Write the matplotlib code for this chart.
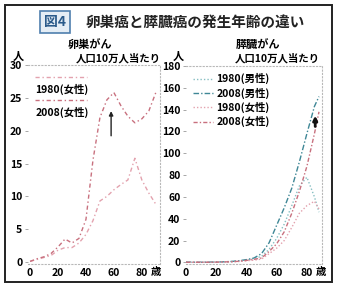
import matplotlib
matplotlib.use("Agg")
import matplotlib.pyplot as plt
from matplotlib.patches import Rectangle
from matplotlib.legend_handler import HandlerLine2D

plt.rcParams['font.family'] = ['Noto Sans CJK JP', 'DejaVu Sans']

# ---------------- data ----------------
ages = [0, 5, 10, 15, 20, 25, 30, 35, 40, 45, 50, 55, 60, 65, 70, 75, 80, 85, 90]
ovary_1980 = [0.1, 0.4, 0.7, 1.0, 1.8, 2.2, 2.2, 2.9, 4.2, 6.3, 9.3, 10.0, 11.0, 11.8, 12.5, 15.8, 12.5, 10.5, 8.8]
ovary_2008 = [0.1, 0.5, 0.8, 1.3, 2.3, 3.5, 2.9, 3.6, 6.5, 15.5, 22.0, 24.7, 25.8, 23.8, 22.2, 21.2, 21.8, 23.0, 25.8]

ages_p = [0, 5, 10, 15, 20, 25, 30, 35, 40, 45, 50, 55, 60, 65, 70, 75, 80, 85, 88]
panc_m_1980 = [0.2, 0.1, 0.1, 0.2, 0.3, 0.5, 0.8, 1.2, 2.0, 3.5, 5.5, 12.0, 22.0, 35.0, 52.0, 70.0, 78.0, 60.0, 46.0]
panc_m_2008 = [0.2, 0.1, 0.1, 0.2, 0.3, 0.5, 0.8, 1.5, 2.5, 4.0, 8.0, 18.0, 34.0, 50.0, 68.0, 92.0, 118.0, 143.0, 152.0]
panc_f_1980 = [0.1, 0.1, 0.1, 0.1, 0.2, 0.3, 0.5, 0.8, 1.5, 2.0, 3.0, 8.0, 13.0, 20.0, 32.0, 45.0, 52.0, 56.0, 49.0]
panc_f_2008 = [0.1, 0.1, 0.1, 0.1, 0.2, 0.4, 0.6, 1.0, 1.8, 2.8, 4.0, 10.0, 17.0, 28.0, 45.0, 65.0, 88.0, 118.0, 138.0]

left_yticks = [0, 5, 10, 15, 20, 25, 30]
right_yticks = [0, 20, 40, 60, 80, 100, 120, 140, 160, 180]
xticks = [0, 20, 40, 60, 80]

W, H = 338, 286
fig = plt.figure(figsize=(W / 100, H / 100), dpi=100)


def ax_rect(x0, x1, y_top, y_bot):
    return [x0 / W, 1 - y_bot / H, (x1 - x0) / W, (y_bot - y_top) / H]


axL = fig.add_axes(ax_rect(28, 160, 65, 264))
axR = fig.add_axes(ax_rect(186, 322, 66, 264))

pink_d = '#c8707e'
pink_l = '#e3a2ae'
teal_d = '#3f8796'
teal_l = '#86bfc2'


class HandlerAbove(HandlerLine2D):
    """Legend line drawn above its label."""
    def create_artists(self, legend, orig_handle, xdescent, ydescent,
                       width, height, fontsize, trans):
        arts = super().create_artists(legend, orig_handle, xdescent, ydescent,
                                      width, height, fontsize, trans)
        for a in arts:
            if hasattr(a, 'get_ydata'):
                a.set_ydata([v + height * 1.7 for v in a.get_ydata()])
        return arts


for ax in (axL, axR):
    ax.spines['left'].set_visible(False)
    for s in ('top', 'right', 'bottom'):
        ax.spines[s].set_linestyle((0, (1, 2)))
        ax.spines[s].set_color('#b8b8b8')
        ax.spines[s].set_linewidth(0.8)
    ax.tick_params(axis='both', length=2, width=0.6, color='#999999',
                   labelsize=7.5, pad=2)
    ax.tick_params(axis='x', length=0, pad=3)

# Left panel: ovarian cancer
l1, = axL.plot(ages, ovary_1980, color=pink_l, lw=1.0, ls=(0, (3, 2, 1, 2)), label='1980(女性)')
l2, = axL.plot(ages, ovary_2008, color=pink_d, lw=1.0, ls=(0, (3, 2, 1, 2)), label='2008(女性)')
axL.set_xlim(-1.5, 93)
axL.set_ylim(-0.3, 30)
axL.set_yticks(left_yticks)
axL.set_xticks(xticks)
for lab in axL.get_xticklabels() + axL.get_yticklabels():
    lab.set_fontweight('bold')
axL.annotate('', xy=(58, 23.4), xytext=(58, 18.8),
             arrowprops=dict(arrowstyle='-|>', color='#222222', lw=1.0,
                             mutation_scale=6))
legL = axL.legend(handles=[l1, l2], loc='upper left', bbox_to_anchor=(0.0, 0.94),
                  frameon=False, fontsize=7.5, handlelength=5.0,
                  handletextpad=-5.0, labelspacing=1.1, borderpad=0.2,
                  handler_map={l1: HandlerAbove(), l2: HandlerAbove()})
for t in legL.get_texts():
    t.set_fontweight('bold')

# Right panel: pancreatic cancer
axR.plot(ages_p, panc_m_1980, color=teal_l, lw=1.0, ls=(0, (1, 1.5)), label='1980(男性)')
axR.plot(ages_p, panc_m_2008, color=teal_d, lw=1.0, ls=(0, (4, 1.5, 1, 1.5)), label='2008(男性)')
axR.plot(ages_p, panc_f_1980, color=pink_l, lw=1.0, ls=(0, (1, 1.5)), label='1980(女性)')
axR.plot(ages_p, panc_f_2008, color=pink_d, lw=1.0, ls=(0, (3, 1.5, 1, 1.5)), label='2008(女性)')
axR.set_xlim(0, 90)
axR.set_ylim(-1.5, 180)
axR.set_yticks(right_yticks)
axR.set_xticks(xticks)
for lab in axR.get_xticklabels() + axR.get_yticklabels():
    lab.set_fontweight('bold')
axR.annotate('', xy=(85.5, 137), xytext=(85.5, 122),
             arrowprops=dict(arrowstyle='-|>', color='#111111', lw=2.0,
                             mutation_scale=6))
legR = axR.legend(loc='upper left', bbox_to_anchor=(0.0, 1.0), frameon=False,
                  fontsize=7.5, handlelength=1.9, handletextpad=0.3,
                  labelspacing=0.3, borderpad=0.2)
for t in legR.get_texts():
    t.set_fontweight('bold')


def fx(px):
    return px / W


def fy(py):
    return 1 - py / H


fig.text(fx(195), fy(22), '卵巣癌と膵臓癌の発生年齢の違い', fontsize=10.5,
         ha='center', va='center', fontweight='bold', color='#222222')
fig.text(fx(55), fy(22), '図4', fontsize=10, ha='center', va='center',
         color='#2a5a8a', fontweight='bold',
         bbox=dict(boxstyle='square,pad=0.3', fc='#e4edf5', ec='#4f7fae', lw=1.2))
fig.text(fx(90), fy(45), '卵巣がん', fontsize=8, ha='center', va='center', fontweight='bold')
fig.text(fx(258), fy(45), '膵臓がん', fontsize=8, ha='center', va='center', fontweight='bold')
fig.text(fx(18), fy(56), '人', fontsize=8, ha='center', va='center', fontweight='bold')
fig.text(fx(178), fy(56), '人', fontsize=8, ha='center', va='center', fontweight='bold')
fig.text(fx(118), fy(58), '人口10万人当たり', fontsize=7.5, ha='center', va='center', fontweight='bold')
fig.text(fx(277), fy(58), '人口10万人当たり', fontsize=7.5, ha='center', va='center', fontweight='bold')
fig.text(fx(156), fy(272), '歳', fontsize=7.5, ha='center', va='center', fontweight='bold')
fig.text(fx(321), fy(272), '歳', fontsize=7.5, ha='center', va='center', fontweight='bold')

fig.patches.append(Rectangle((5 / W, 1 - 282 / H), 327 / W, 277 / H,
                             transform=fig.transFigure, fill=False,
                             ec='#222222', lw=1.4))

fig.savefig('out.png', dpi=100)
